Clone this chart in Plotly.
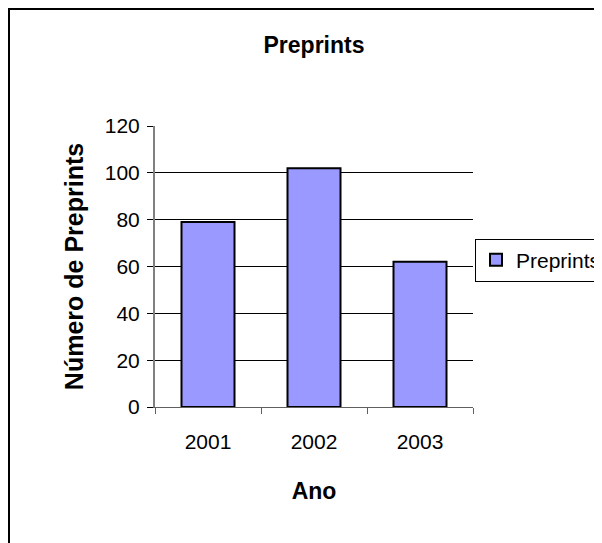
import plotly.graph_objects as go

years = ["2001", "2002", "2003"]
preprints = [79, 102, 62]
y_ticks = [0, 20, 40, 60, 80, 100, 120]

FONT = "Arial, Liberation Sans, sans-serif"
W, H = 602, 543
# plot area in figure pixels (page body adds an 8px offset)
L, T = 147, 118
pw, ph = 318, 281
R, B = W - L - pw, H - T - ph

def px_x(px):
    return (px - L) / pw

def px_y(py):
    return (T + ph - py) / ph

fig = go.Figure()
fig.add_trace(go.Bar(
    x=years, y=preprints, name="Preprints",
    marker=dict(color="#9999FF", line=dict(color="black", width=2)),
))

fig.update_layout(
    width=W, height=H,
    margin=dict(l=L, r=R, t=T, b=B, autoexpand=False),
    paper_bgcolor="white", plot_bgcolor="white",
    font=dict(family=FONT, size=21, color="black"),
    bargap=0.5,
    showlegend=True,
    title=dict(text="<b>Preprints</b>", x=0.5, xref="paper", xanchor="center",
               y=1 - 37 / H, yanchor="middle", font=dict(size=23)),
    legend=dict(x=px_x(467), y=px_y(252), xanchor="left", yanchor="middle",
                bordercolor="black", borderwidth=1, bgcolor="white",
                font=dict(size=21), itemwidth=30),
    xaxis=dict(
        type="category", showline=True, linecolor="#606060", linewidth=1,
        ticks="outside", ticklen=6, tickcolor="#606060", tickson="boundaries",
        showgrid=False, ticklabelstandoff=16,
        title=dict(text="<b>Ano</b>", standoff=30, font=dict(size=23)),
        automargin=False,
    ),
    yaxis=dict(
        range=[0, 120], tickvals=y_ticks, showline=True, linecolor="#808080",
        linewidth=2, ticks="outside", ticklen=6, tickcolor="black",
        showgrid=True, gridcolor="black", gridwidth=1, zeroline=False,
        ticklabelstandoff=3,
        title=dict(text="<b>Número de Preprints</b>", standoff=14, font=dict(size=25)),
        automargin=False,
    ),
    shapes=[dict(type="rect", xref="paper", yref="paper",
                 x0=px_x(1), y0=px_y(H - 1), x1=px_x(W - 1), y1=px_y(1),
                 line=dict(color="black", width=2), layer="below")],
)

fig.write_html("out.html")
